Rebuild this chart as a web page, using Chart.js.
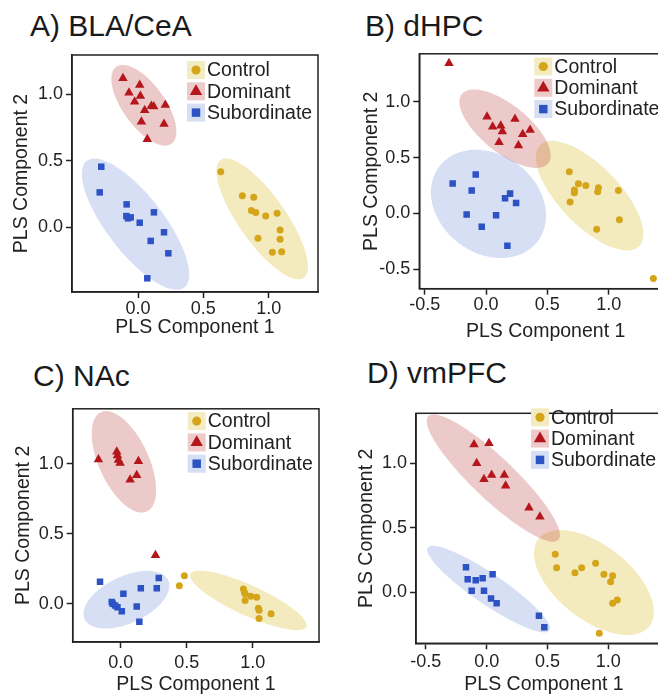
<!DOCTYPE html>
<html>
<head>
<meta charset="utf-8">
<script src="https://cdn.jsdelivr.net/npm/chart.js@4.4.0/dist/chart.umd.min.js"></script>
<style>
html, body { margin: 0; padding: 0; overflow: hidden; background: #fff; }
body { position: relative; width: 658px; height: 695px; font-family: "Liberation Sans", Arial, sans-serif; }
.title { position: absolute; font-size: 30px; line-height: 30px; color: #1a1a1a; white-space: nowrap; }
canvas { position: absolute; }
</style>
</head>
<body>
<div class="title" style="left:30px;top:11px">A) BLA/CeA</div>
<div class="title" style="left:365px;top:11px">B) dHPC</div>
<div class="title" style="left:33px;top:361px">C) NAc</div>
<div class="title" style="left:367px;top:358px">D) vmPFC</div>
<canvas id="chartA" width="330" height="305" style="left:0px;top:40px"></canvas>
<canvas id="chartB" width="345" height="305" style="left:345px;top:40px"></canvas>
<canvas id="chartC" width="330" height="305" style="left:0px;top:395px"></canvas>
<canvas id="chartD" width="345" height="305" style="left:345px;top:395px"></canvas>
<script>
const groups = ['Control', 'Dominant', 'Subordinate']

// A) BLA/CeA
const blaControl = [[0.633,0.420],[0.798,0.239],[0.885,0.227],[0.867,0.127],[0.901,0.112],[0.977,0.086],[1.064,0.107],[1.087,-0.019],[0.918,-0.081],[1.087,-0.089],[1.028,-0.187],[1.099,-0.182]]
const blaDominant = [[-0.115,1.122],[0.013,1.071],[-0.069,1.014],[0.018,0.989],[-0.026,0.946],[0.051,0.882],[0.102,0.914],[0.120,0.909],[0.209,0.921],[0.026,0.796],[0.199,0.778],[0.071,0.663]]
const blaSubordinate = [[-0.281,0.457],[-0.293,0.264],[-0.087,0.174],[-0.089,0.086],[-0.077,0.069],[-0.056,0.076],[0.122,0.114],[0.013,0.036],[0.199,-0.036],[0.097,-0.101],[0.232,-0.194],[0.071,-0.382]]
// ellipse: centre x,y, end of one half axis x,y, end of the other half axis x,y
const blaEllipses = [[0.950,0.065,1.268,-0.378,0.803,-0.037],[0.045,0.919,0.257,0.630,-0.085,0.826],[-0.019,0.025,0.354,-0.451,-0.191,-0.105]]
const blaXTicks = [0, 0.5, 1]
const blaYTicks = [0, 0.5, 1]

// B) dHPC
const dhpcControl = [[0.679,0.373],[0.753,0.266],[0.720,0.210],[0.720,0.186],[0.813,0.251],[0.916,0.231],[0.910,0.195],[1.079,0.207],[0.685,0.104],[1.087,-0.056],[0.902,-0.142],[1.364,-0.583]]
const dhpcDominant = [[-0.302,1.346],[0.008,0.867],[0.054,0.778],[0.120,0.787],[0.133,0.734],[0.236,0.846],[0.106,0.639],[0.264,0.609],[0.299,0.710],[0.359,0.749]]
const dhpcSubordinate = [[-0.272,0.269],[-0.084,0.349],[-0.117,0.207],[-0.158,-0.009],[-0.035,-0.118],[0.082,-0.015],[0.155,0.136],[0.196,0.178],[0.245,0.095],[0.174,-0.290]]
const dhpcEllipses = [[0.844,0.160,1.246,-0.295,0.668,-0.025],[0.155,0.760,0.506,0.449,0.032,0.596],[0.020,0.086,0.417,-0.255,-0.230,-0.259]]
const dhpcXTicks = [-0.5, 0, 0.5, 1]
const dhpcYTicks = [-0.5, 0, 0.5, 1]

// C) NAc
const nacControl = [[0.444,0.129],[0.482,0.200],[0.929,0.106],[0.937,0.082],[0.942,0.071],[0.942,0.024],[0.985,0.054],[1.030,0.047],[1.043,-0.031],[1.048,-0.047],[1.139,-0.071],[1.048,-0.106]]
const nacDominant = [[-0.169,1.031],[-0.030,1.087],[-0.025,1.059],[-0.018,1.028],[-0.005,1.005],[0.134,1.019],[0.121,0.918],[0.071,0.887],[0.263,0.346]]
const nacSubordinate = [[-0.157,0.158],[0.020,0.071],[-0.068,0.012],[-0.061,0.000],[-0.043,-0.012],[-0.025,-0.024],[0.008,-0.054],[0.121,-0.019],[0.152,0.111],[0.273,0.111],[0.288,0.184],[0.141,-0.129]]
const nacEllipses = [[0.967,0.024,1.406,-0.165,0.919,-0.074],[0.024,1.014,0.197,0.659,-0.148,0.941],[0.043,0.029,0.359,0.169,0.120,-0.122]]
const nacXTicks = [0, 0.5, 1]
const nacYTicks = [0, 0.5, 1]

// D) vmPFC
const vmpfcControl = [[0.564,0.295],[0.575,0.191],[0.726,0.152],[0.781,0.191],[0.896,0.225],[0.964,0.140],[1.036,0.129],[1.019,0.083],[1.036,-0.085],[1.074,-0.059],[0.926,-0.318]]
const vmpfcDominant = [[-0.104,1.147],[0.019,1.155],[-0.082,1.000],[-0.022,0.876],[0.041,0.910],[0.145,0.910],[0.156,0.827],[0.348,0.656],[0.438,0.587]]
const vmpfcSubordinate = [[-0.170,0.194],[-0.156,0.101],[-0.090,0.093],[-0.033,0.109],[-0.123,0.013],[-0.022,0.013],[0.049,0.140],[0.036,-0.047],[0.082,-0.085],[0.430,-0.181],[0.474,-0.271]]
const vmpfcEllipses = [[0.882,0.076,1.338,-0.262,0.694,-0.150],[0.055,0.886,0.590,0.407,-0.064,0.768],[0.016,0.025,0.516,-0.296,-0.054,-0.073]]
const vmpfcXTicks = [-0.5, 0, 0.5, 1]
const vmpfcYTicks = [0, 0.5, 1]

const pointColors = ['#d4a419', '#b5161b', '#2d52c4']
const fillColors = ['rgba(215,190,40,0.3)', 'rgba(190,60,60,0.27)', 'rgba(70,110,200,0.22)']
const keyColors = ['#f3ecc2', '#eecaca', '#d6dff3']
const pointStyles = ['circle', 'triangle', 'rect']
const pointSizes = [3.5, 5.5, 4.6]

Chart.defaults.font.family = '"Liberation Sans", Arial, sans-serif'
Chart.defaults.color = '#222'

const ellipsePlugin = {
  id: 'ellipses',
  beforeDatasetsDraw(chart, args, opts) {
    const {ctx, chartArea: a, scales: {x, y}} = chart
    ctx.save()
    ctx.beginPath()
    ctx.rect(a.left, a.top, a.width, a.height)
    ctx.clip()
    opts.list.forEach((e, i) => {
      const cx = x.getPixelForValue(e[0]), cy = y.getPixelForValue(e[1])
      const ax = x.getPixelForValue(e[2]) - cx, ay = y.getPixelForValue(e[3]) - cy
      const bx = x.getPixelForValue(e[4]) - cx, by = y.getPixelForValue(e[5]) - cy
      ctx.beginPath()
      for (let k = 0; k <= 120; k++) {
        const t = k / 120 * Math.PI * 2
        const px = cx + Math.cos(t) * ax + Math.sin(t) * bx
        const py = cy + Math.cos(t) * ay + Math.sin(t) * by
        if (k == 0) ctx.moveTo(px, py)
        else ctx.lineTo(px, py)
      }
      ctx.closePath()
      ctx.fillStyle = fillColors[i]
      ctx.fill()
    })
    ctx.restore()
  }
}

// box around the plot + legend in the top right
const framePlugin = {
  id: 'frame',
  afterDraw(chart, args, opts) {
    const {ctx, chartArea: a} = chart
    ctx.save()
    ctx.strokeStyle = '#222'
    ctx.lineWidth = 1.5
    ctx.strokeRect(a.left, a.top, a.width, a.height)
    groups.forEach((g, i) => {
      const kx = a.left + 124
      const ky = a.top + opts.legendTop + i * 21.3
      ctx.fillStyle = keyColors[i]
      ctx.fillRect(kx - 9, ky - 9, 18, 18)
      ctx.fillStyle = pointColors[i]
      Chart.helpers.drawPoint(ctx, {pointStyle: pointStyles[i], radius: pointSizes[i] * 1.3, rotation: 0, borderWidth: 0}, kx, ky)
      ctx.fillStyle = '#222'
      ctx.font = '19.5px "Liberation Sans", Arial, sans-serif'
      ctx.textBaseline = 'middle'
      ctx.textAlign = 'left'
      ctx.fillText(g, kx + 11, ky + 1)
    })
    ctx.restore()
  }
}

function makePanel(p) {
  const c = p.canvas
  const titleHalf = 19.5 * 1.2 / 2
  const padLeft = p.yTitleX - titleHalf - c.left
  const yAxisW = p.box.l - c.left - padLeft
  const padTop = p.box.t - c.top
  const padRight = c.left + c.w - p.box.r
  const xAxisH = p.xTitleY + titleHalf - p.box.b
  const padBottom = c.top + c.h - (p.xTitleY + titleHalf)

  const axisCommon = {
    type: 'linear',
    grid: {drawOnChartArea: false, drawTicks: true, tickLength: 6, tickColor: '#222', tickWidth: 1.5},
    border: {color: '#222', width: 1.5},
  }

  new Chart(document.getElementById(p.id), {
    type: 'scatter',
    data: {
      datasets: p.series.map((pts, i) => ({
        label: groups[i],
        data: pts.map(v => ({x: v[0], y: v[1]})),
        pointStyle: pointStyles[i],
        pointRadius: pointSizes[i],
        pointHoverRadius: pointSizes[i],
        pointBackgroundColor: pointColors[i],
        pointBorderWidth: 0,
      }))
    },
    options: {
      responsive: false,
      animation: false,
      layout: {padding: {left: padLeft, top: padTop, right: padRight, bottom: padBottom}},
      plugins: {
        legend: {display: false},
        tooltip: {enabled: false},
        ellipses: {list: p.ellipses},
        frame: {legendTop: p.legendTop},
      },
      scales: {
        x: {
          ...axisCommon,
          min: p.xRange[0], max: p.xRange[1],
          afterBuildTicks: s => { s.ticks = p.xTicks.map(v => ({value: v})) },
          afterFit: s => { s.height = xAxisH },
          ticks: {callback: v => v.toFixed(1), font: {size: 18}, color: '#222', padding: p.tickPad, maxRotation: 0},
          title: {display: true, text: 'PLS Component 1', font: {size: 19.5}, color: '#222', padding: 0},
        },
        y: {
          ...axisCommon,
          min: p.yRange[0], max: p.yRange[1],
          afterBuildTicks: s => { s.ticks = p.yTicks.map(v => ({value: v})) },
          afterFit: s => { s.width = yAxisW },
          ticks: {callback: v => v.toFixed(1), font: {size: 18}, color: '#222', padding: 3},
          title: {display: true, text: 'PLS Component 2', font: {size: 19.5}, color: '#222', padding: 0},
        }
      }
    },
    plugins: [ellipsePlugin, framePlugin]
  })
}

makePanel({
  id: 'chartA', canvas: {left: 0, top: 40, w: 330, h: 305},
  box: {l: 72, t: 55, r: 318, b: 292}, xTitleY: 328, yTitleX: 22, tickPad: 0, legendTop: 15,
  xRange: [-0.505, 1.377], yRange: [-0.485, 1.297],
  xTicks: blaXTicks, yTicks: blaYTicks,
  series: [blaControl, blaDominant, blaSubordinate], ellipses: blaEllipses,
})
makePanel({
  id: 'chartB', canvas: {left: 345, top: 40, w: 345, h: 305},
  box: {l: 419.3, t: 50.7, r: 672, b: 288.7}, xTitleY: 331.7, yTitleX: 371.7, tickPad: 0, legendTop: 12.7,
  xRange: [-0.544, 1.516], yRange: [-0.674, 1.431],
  xTicks: dhpcXTicks, yTicks: dhpcYTicks,
  series: [dhpcControl, dhpcDominant, dhpcSubordinate], ellipses: dhpcEllipses,
})
makePanel({
  id: 'chartC', canvas: {left: 0, top: 395, w: 330, h: 305},
  box: {l: 72.7, t: 406, r: 319, b: 642}, xTitleY: 685, yTitleX: 23.3, tickPad: 4, legendTop: 12.3,
  xRange: [-0.364, 1.502], yRange: [-0.273, 1.393],
  xTicks: nacXTicks, yTicks: nacYTicks,
  series: [nacControl, nacDominant, nacSubordinate], ellipses: nacEllipses,
})
makePanel({
  id: 'chartD', canvas: {left: 345, top: 395, w: 345, h: 305},
  box: {l: 416, t: 413.3, r: 672, b: 643.3}, xTitleY: 685, yTitleX: 366.7, tickPad: 2, legendTop: 4,
  xRange: [-0.581, 1.524], yRange: [-0.395, 1.388],
  xTicks: vmpfcXTicks, yTicks: vmpfcYTicks,
  series: [vmpfcControl, vmpfcDominant, vmpfcSubordinate], ellipses: vmpfcEllipses,
})
</script>
</body>
</html>
